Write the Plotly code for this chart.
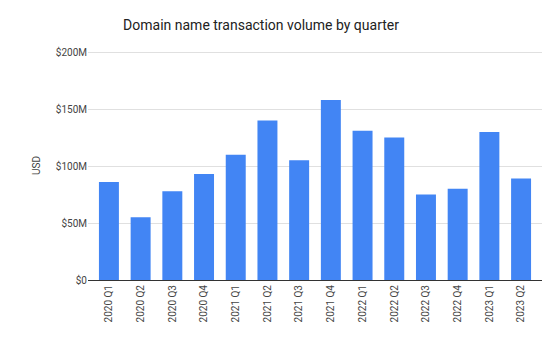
import plotly.graph_objects as go

quarters = ["2020 Q1", "2020 Q2", "2020 Q3", "2020 Q4", "2021 Q1", "2021 Q2", "2021 Q3",
            "2021 Q4", "2022 Q1", "2022 Q2", "2022 Q3", "2022 Q4", "2023 Q1", "2023 Q2"]
volume_musd = [86, 55, 78, 93, 110, 140, 105, 158, 131, 125, 75, 80, 130, 89]
y_ticks = [0, 50, 100, 150, 200]
y_tick_labels = ["$0", "$50M", "$100M", "$150M", "$200M"]

fig = go.Figure(go.Bar(x=quarters, y=volume_musd, marker_color="#4285F4",
                       marker_line_width=0))
fig.update_layout(
    width=559, height=345,
    margin=dict(l=88, r=17, t=51, b=65, autoexpand=False),
    paper_bgcolor="white", plot_bgcolor="white",
    font=dict(family="Roboto, Arial, sans-serif", color="#444444", size=10),
    title=dict(text="Domain name transaction volume by quarter", x=0.467, xanchor="center",
               y=0.927, yanchor="middle", font=dict(size=14, color="#222222")),
    bargap=0.37,
    showlegend=False,
    xaxis=dict(tickangle=-90, showgrid=False, showline=True, linecolor="#333333",
               linewidth=1, ticks="", range=[-0.66, 13.66], automargin=False,
               tickfont=dict(size=10, color="#444444")),
    yaxis=dict(range=[0, 201], tickvals=y_ticks, ticktext=y_tick_labels,
               gridcolor="#e0e0e0", zeroline=False, showline=False, ticks="",
               automargin=False,
               title=dict(text="USD", standoff=13, font=dict(size=10, color="#444444")),
               tickfont=dict(size=10, color="#444444")),
)
fig.write_html("out.html")
